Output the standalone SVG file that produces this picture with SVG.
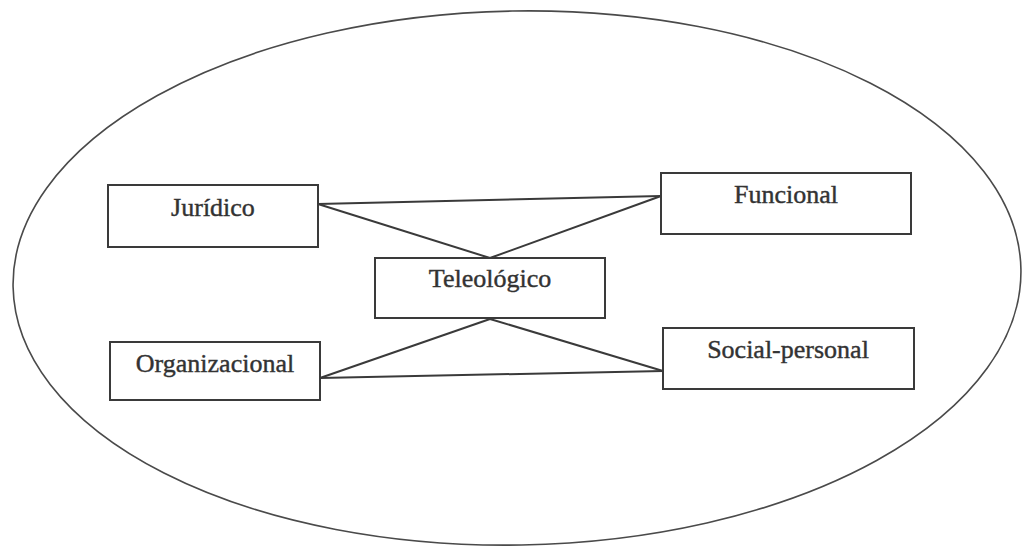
<svg xmlns="http://www.w3.org/2000/svg" width="1022" height="546" viewBox="0 0 1022 546">
<style>
.box{fill:#fff;stroke:#3a3a3a;stroke-width:2}
.lbl{font-family:"Liberation Serif","Times New Roman",serif;font-size:26px;fill:#333;stroke:#333;stroke-width:0.4;text-anchor:middle}
.conn{stroke:#3a3a3a;stroke-width:2;fill:none}
</style>
<rect width="1022" height="546" fill="#fff"/>
<ellipse id="frame" cx="517" cy="278" rx="504" ry="267" fill="none" stroke="#4a4a4a" stroke-width="1.6" transform="rotate(-1 517 278)"/>
<g id="connectors">
<line class="conn" x1="318" y1="204" x2="661" y2="196"/>
<line class="conn" x1="318" y1="204" x2="490" y2="258"/>
<line class="conn" x1="661" y1="196" x2="490" y2="258"/>
<line class="conn" x1="490" y1="319" x2="320" y2="378"/>
<line class="conn" x1="490" y1="319" x2="663" y2="371"/>
<line class="conn" x1="320" y1="378" x2="663" y2="371"/>
</g>
<g id="juridico">
<rect class="box" x="108" y="185" width="210" height="62"/>
<text class="lbl" x="213" y="216">Jurídico</text>
</g>
<g id="funcional">
<rect class="box" x="661" y="173" width="250" height="61"/>
<text class="lbl" x="786" y="203">Funcional</text>
</g>
<g id="teleologico">
<rect class="box" x="375" y="258" width="230" height="60"/>
<text class="lbl" x="490" y="287">Teleológico</text>
</g>
<g id="organizacional">
<rect class="box" x="110" y="342" width="210" height="58"/>
<text class="lbl" x="215" y="372">Organizacional</text>
</g>
<g id="social-personal">
<rect class="box" x="663" y="328" width="251" height="61"/>
<text class="lbl" x="788" y="358">Social-personal</text>
</g>
</svg>
